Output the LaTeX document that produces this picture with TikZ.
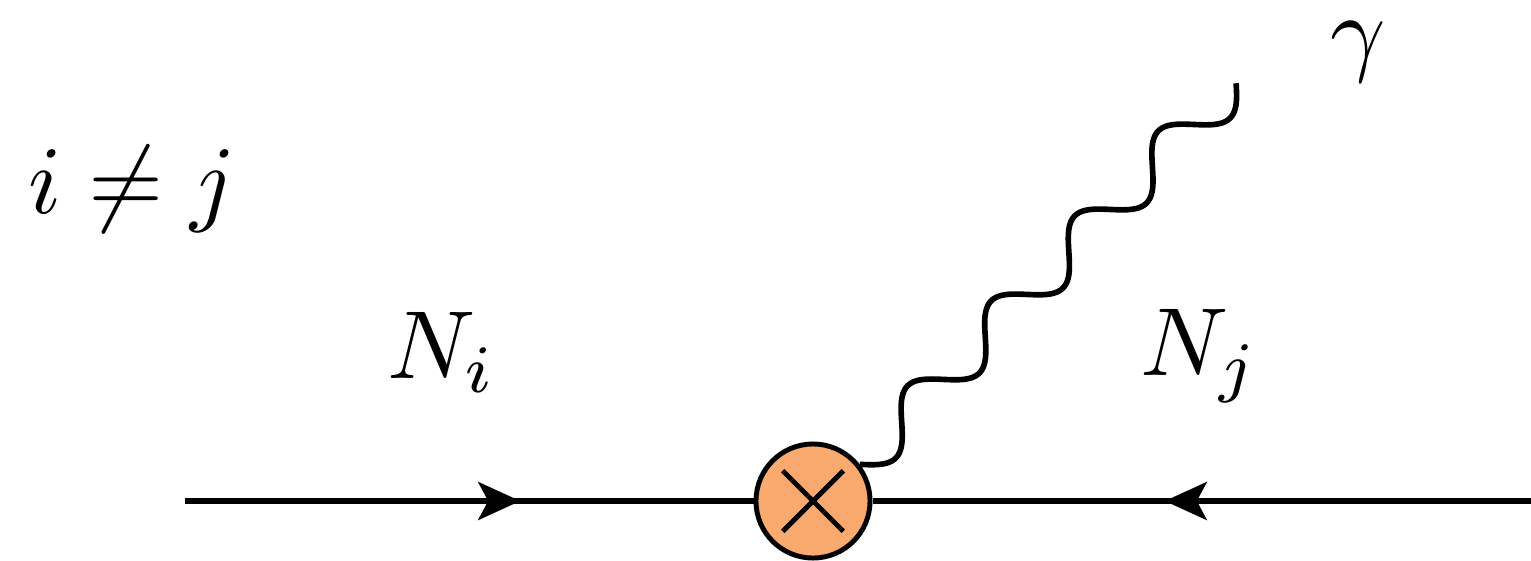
\documentclass[tikz,border=0pt]{standalone}
\usetikzlibrary{arrows.meta,decorations.markings,calc}
\definecolor{vtxorange}{RGB}{250,170,110}
\tikzset{
  fermion/.style={line width=1.45pt},
  photon/.style={line width=1.6pt,line join=round},
  vertexbox/.style={circle,draw,line width=1.4pt,fill=vtxorange,minimum size=1.14cm,inner sep=0pt},
  lbl/.style={anchor=base,inner sep=0pt,scale=2.75,transform shape},
  arr/.style={postaction={decorate,decoration={markings,mark=at position #1 with {\arrow{Stealth[length=0.42cm,width=0.38cm,inset=0.1cm]}}}}}
}
\begin{document}
\begin{tikzpicture}[x=0.01cm,y=-0.01cm]
\useasboundingbox (0,0) rectangle (1531,560);
\node[vertexbox] (v) at (813,501) {};
\coordinate (a) at (185,501);
\coordinate (b) at (1531,501);
\coordinate (ws) at (v.38);
\coordinate (ge) at (1236,82);
\draw[fermion,arr=3.35cm] (a) -- (v);
\draw[fermion,arr=3.66cm] (b) -- (v);
\draw[line width=1.4pt] ($(v.center)!0.72!(v.north east)$) -- ($(v.center)!0.72!(v.south west)$);
\draw[line width=1.4pt] ($(v.center)!0.72!(v.north west)$) -- ($(v.center)!0.72!(v.south east)$);
\draw[photon] let \p1=(ws), \p2=(ge), \n1={veclen(\x2-\x1,\y2-\y1)} in
  plot[domain=0:1,samples=400,smooth,variable=\t]
  ({\x1+(\x2-\x1)*\t+6*sin(1620*\t)*(\y2-\y1)/\n1},
   {\y1+(\y2-\y1)*\t-6*sin(1620*\t)*(\x2-\x1)/\n1});
\node[lbl] (neq) at (132,213) {$i\neq j$};
\node[lbl] (ni) at (442,378) {$N_i$};
\node[lbl] (nj) at (1200,375) {$N_j$};
\node[lbl] (gam) at (1358,63) {$\gamma$};
\end{tikzpicture}
\end{document}
